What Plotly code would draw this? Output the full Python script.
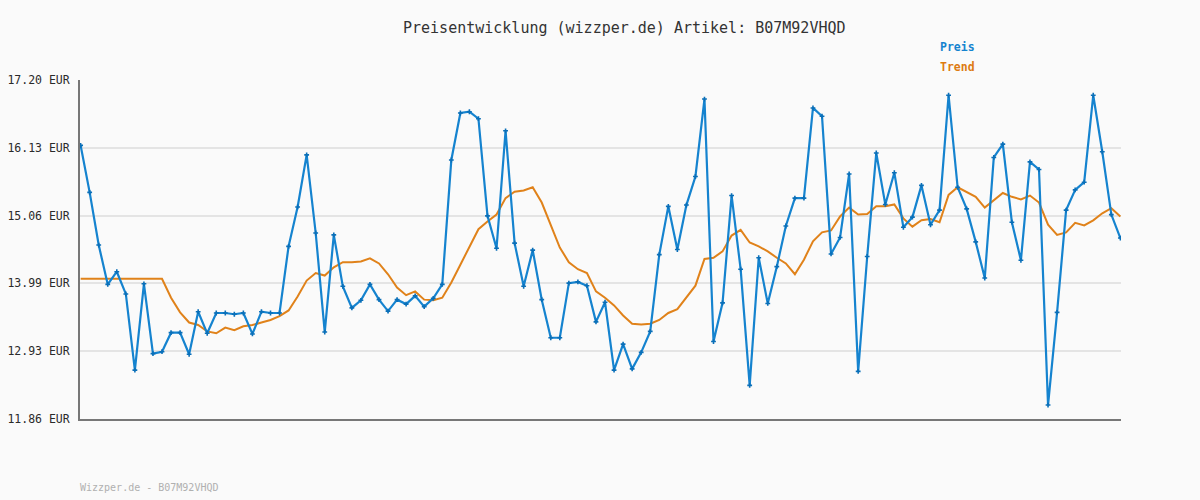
import plotly.graph_objects as go

preis = [16.17, 15.43, 14.60, 13.98, 14.18, 13.83, 12.63, 13.99, 12.89, 12.92,
         13.22, 13.22, 12.88, 13.55, 13.21, 13.53, 13.53, 13.51, 13.53, 13.20,
         13.55, 13.53, 13.53, 14.58, 15.20, 16.02, 14.79, 13.23, 14.76, 13.95,
         13.61, 13.73, 13.98, 13.74, 13.56, 13.74, 13.67, 13.80, 13.63, 13.76,
         13.98, 15.94, 16.68, 16.70, 16.59, 15.06, 14.55, 16.40, 14.63, 13.95,
         14.52, 13.74, 13.14, 13.14, 14.00, 14.02, 13.96, 13.39, 13.70, 12.63,
         13.04, 12.65, 12.91, 13.24, 14.45, 15.21, 14.53, 15.23, 15.68, 16.90,
         13.08, 13.69, 15.38, 14.22, 12.39, 14.40, 13.68, 14.26, 14.90, 15.34,
         15.34, 16.76, 16.63, 14.46, 14.72, 15.72, 12.61, 14.42, 16.05, 15.24,
         15.74, 14.88, 15.04, 15.54, 14.92, 15.15, 16.96, 15.51, 15.17, 14.65,
         14.08, 15.98, 16.19, 14.96, 14.36, 15.91, 15.79, 12.08, 13.54, 15.15,
         15.47, 15.59, 16.96, 16.07, 15.08, 14.71]

trend = [14.07, 14.07, 14.07, 14.07, 14.07, 14.07, 14.07, 14.07, 14.07, 14.07,
         13.77, 13.54, 13.38, 13.34, 13.24, 13.21, 13.30, 13.26, 13.32, 13.34,
         13.38, 13.42, 13.48, 13.57, 13.79, 14.04, 14.16, 14.12, 14.25, 14.33,
         14.33, 14.34, 14.39, 14.31, 14.14, 13.93, 13.81, 13.87, 13.74, 13.73,
         13.77, 14.01, 14.29, 14.58, 14.85, 14.97, 15.08, 15.34, 15.44, 15.46,
         15.51, 15.27, 14.93, 14.56, 14.33, 14.22, 14.16, 13.87, 13.77, 13.65,
         13.49, 13.36, 13.35, 13.36, 13.42, 13.53, 13.59, 13.77, 13.96, 14.38,
         14.40, 14.50, 14.75, 14.84, 14.64, 14.58, 14.50, 14.40, 14.31, 14.14,
         14.37, 14.66, 14.80, 14.83, 15.05, 15.19, 15.08, 15.09, 15.21, 15.21,
         15.24, 15.02, 14.89, 14.99, 15.01, 14.96, 15.39, 15.51, 15.43, 15.36,
         15.19, 15.30, 15.42, 15.36, 15.32, 15.38, 15.27, 14.92, 14.76, 14.80,
         14.95, 14.91, 14.99, 15.10, 15.18, 15.05]

tick_vals = [11.86, 12.928, 13.996, 15.064, 16.132, 17.20]
tick_text = ["11.86 EUR", "12.93 EUR", "13.99 EUR", "15.06 EUR", "16.13 EUR", "17.20 EUR"]

title_text = "Preisentwicklung (wizzper.de) Artikel: B07M92VHQD"
footer_text = "Wizzper.de - B07M92VHQD"

x = list(range(len(preis)))

BLUE = "#1583cf"
ORANGE = "#e0821a"
MONO = "DejaVu Sans Mono, Liberation Mono, monospace"

fig = go.Figure()
fig.add_trace(go.Scatter(x=x, y=trend, mode="lines", name="Trend",
                         line=dict(color=ORANGE, width=2), hoverinfo="skip"))
fig.add_trace(go.Scatter(x=x, y=preis, mode="lines+markers", name="Preis",
                         line=dict(color=BLUE, width=2.2),
                         marker=dict(symbol="cross", size=4, color="#0a6fb8",
                                     line=dict(width=0)),
                         hoverinfo="skip"))

fig.update_layout(
    width=1200, height=500,
    paper_bgcolor="#fafafa", plot_bgcolor="#fafafa",
    margin=dict(l=80, r=79, t=80, b=81),
    showlegend=False,
    font=dict(family=MONO, color="#333333"),
    xaxis=dict(range=[-0.07, 115.07], showgrid=False, zeroline=False,
               showticklabels=False, showline=True, linecolor="#777777",
               linewidth=2, ticks="", automargin=False),
    yaxis=dict(range=[11.86, 17.20], tickmode="array", tickvals=tick_vals,
               ticktext=tick_text, showgrid=True, gridcolor="#e4e4e4",
               gridwidth=2, zeroline=False, showline=True,
               linecolor="#777777", linewidth=2, ticks="",
               ticklabelstandoff=6, automargin=False,
               tickfont=dict(family=MONO, size=11.5, color="#2a2a2a")),
    annotations=[
        dict(text=title_text, xref="paper", yref="paper", x=0.5226, y=1.153,
             xanchor="center", yanchor="middle", showarrow=False,
             font=dict(family=MONO, size=15, color="#333333")),
        dict(text="<b>Preis</b>", xref="paper", yref="paper", x=0.8245, y=1.097,
             xanchor="left", yanchor="middle", showarrow=False,
             font=dict(family=MONO, size=11.5, color="#1583cf")),
        dict(text="<b>Trend</b>", xref="paper", yref="paper", x=0.8245, y=1.038,
             xanchor="left", yanchor="middle", showarrow=False,
             font=dict(family=MONO, size=11.5, color="#dd7b12")),
        dict(text=footer_text, xref="paper", yref="paper", x=0.0, y=-0.2006,
             xanchor="left", yanchor="middle", showarrow=False, xshift=-2,
             font=dict(family=MONO, size=10, color="#b0b0b0")),
    ],
)

fig.write_html("out.html")
